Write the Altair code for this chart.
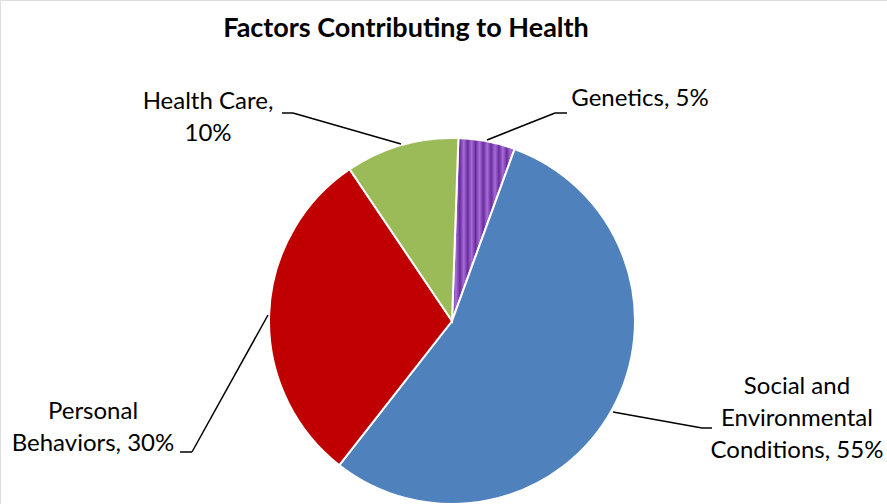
import altair as alt
import pandas as pd
import math

# ---- data ----
categories = ["Genetics", "Social and Environmental Conditions", "Personal Behaviors", "Health Care"]
values = [5, 55, 30, 10]
colors = ["#7030A0", "#4F81BD", "#C00000", "#9BBB59"]
label_lines = [
    ["Genetics, 5%"],
    ["Social and", "Environmental", "Conditions, 55%"],
    ["Personal", "Behaviors, 30%"],
    ["Health Care,", "10%"],
]
title_text = "Factors Contributing to Health"

df = pd.DataFrame({"category": categories, "value": values, "order": list(range(len(categories)))})

# ---- layout (pixels) ----
W, H = 887, 504
CX, CY, R = 452, 321, 183
START = math.radians(2)
FONT = "Lato"
FS = 24

# stripes gradient for Genetics slice
n_periods = 8
stops = []
for i in range(n_periods):
    a = i / n_periods
    stops += [
        {"offset": a, "color": "#6A2C9C"},
        {"offset": a + 0.5 / n_periods, "color": "#A86CDA"},
        {"offset": a + 1.0 / n_periods, "color": "#6A2C9C"},
    ]
stripes = {"gradient": "linear", "x1": 0, "x2": 1, "y1": 0, "y2": 0, "stops": stops}

pie = alt.Chart(df).mark_arc(radius=R, stroke="white", strokeWidth=2).encode(
    theta=alt.Theta("value:Q", stack=True, scale=alt.Scale(range=[START, START + 2 * math.pi])),
    order=alt.Order("order:Q"),
    fill=alt.condition(
        alt.datum.category == "Genetics",
        alt.value(stripes),
        alt.Fill("category:N", scale=alt.Scale(domain=categories, range=colors), legend=None),
    ),
    x=alt.value(CX),
    y=alt.value(CY),
)

# leader lines (annotation polylines)
leaders = [
    [(487, 140), (555, 113), (567, 113)],
    [(613, 412), (702, 428), (712, 428)],
    [(268, 315), (192, 452), (180, 452)],
    [(401, 144), (293, 113), (282, 113)],
]
seg_rows = []
for pts in leaders:
    for (x1, y1), (x2, y2) in zip(pts[:-1], pts[1:]):
        seg_rows.append({"x": x1, "y": y1, "x2": x2, "y2": y2})
seg_df = pd.DataFrame(seg_rows)
lines = alt.Chart(seg_df).mark_rule(color="black", strokeWidth=1.5).encode(
    x=alt.X("x:Q", scale=alt.Scale(domain=[0, W], range=[0, W]), axis=None),
    y=alt.Y("y:Q", scale=alt.Scale(domain=[0, H], range=[0, H]), axis=None),
    x2="x2:Q",
    y2="y2:Q",
)

# label placement: (center x, first-line center y)
label_pos = [(640, 99), (797, 387), (93, 412), (208, 102)]
LINE_H = 32
lab_rows = []
for lines_txt, (lx, ly) in zip(label_lines, label_pos):
    for k, t in enumerate(lines_txt):
        lab_rows.append({"x": lx, "y": ly + k * LINE_H, "text": t})
lab_df = pd.DataFrame(lab_rows)
labels = alt.Chart(lab_df).mark_text(font=FONT, fontSize=FS, color="black", align="center", baseline="middle").encode(
    x=alt.X("x:Q", scale=alt.Scale(domain=[0, W], range=[0, W]), axis=None),
    y=alt.Y("y:Q", scale=alt.Scale(domain=[0, H], range=[0, H]), axis=None),
    text="text:N",
)

title = alt.Chart(pd.DataFrame({"t": [title_text]})).mark_text(
    font=FONT, fontSize=27, fontWeight="bold", color="black", align="center", baseline="middle"
).encode(x=alt.value(406), y=alt.value(29), text="t:N")

chart = alt.layer(pie, lines, labels, title).resolve_scale(theta="independent").properties(
    width=W, height=H, autosize=alt.AutoSizeParams(type="none"), padding=0
).configure_view(stroke=None).configure(background="white")

chart.save("out.html", embed_options={"renderer": "svg", "actions": False})
